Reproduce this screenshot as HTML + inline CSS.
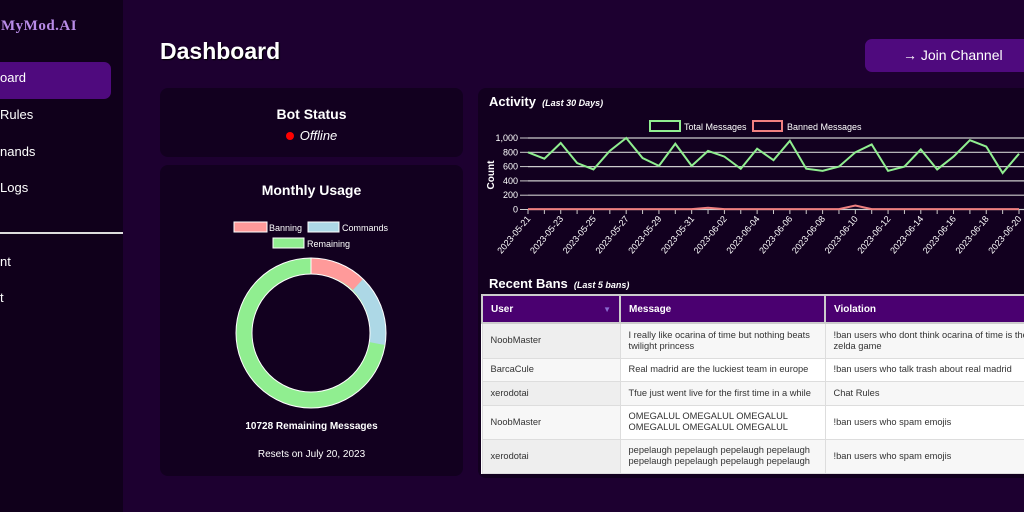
<!DOCTYPE html><html><head><style>
*{box-sizing:border-box;margin:0;padding:0}
body{width:1024px;height:512px;overflow:hidden;background:#1d0030;font-family:"Liberation Sans",sans-serif;color:#fff;position:relative}
.sb{position:absolute;left:0;top:0;width:123px;height:512px;background:#10001b}
.abs{position:absolute}
.card{position:absolute;background:#12001f;border-radius:8px}
.nav{position:absolute;font-size:13px;color:#fff}
table{border-collapse:collapse;font-size:9.3px;color:#333;table-layout:fixed}
td,th{border:1px solid #ddd;padding:0 8px;text-align:left;vertical-align:middle;line-height:11px}
th{background:#4a0070;color:#fff;border:2px solid #ccc;font-size:10px}
</style></head><body>
<div class="sb">
<div class="abs" style="left:1px;top:18px;font-family:'Liberation Serif',serif;font-weight:bold;font-size:15px;color:#b98ce8;letter-spacing:0.5px">MyMod.AI</div>
<div class="abs" style="left:0;top:62px;width:111px;height:37px;background:#4f0a7e;border-radius:0 7px 7px 0"></div>
<div class="nav" style="left:0;top:70px">oard</div>
<div class="nav" style="left:0;top:107px">Rules</div>
<div class="nav" style="left:0;top:144px">nands</div>
<div class="nav" style="left:0;top:180px">Logs</div>
<div class="abs" style="left:0;top:232px;width:123px;height:2px;background:#ddd"></div>
<div class="nav" style="left:0;top:254px">nt</div>
<div class="nav" style="left:0;top:290px">t</div>
</div>
<div class="abs" style="left:160px;top:38px;font-size:23px;font-weight:bold;text-shadow:1px 1px 1px #000">Dashboard</div>
<div class="abs" style="left:865px;top:39px;width:170px;height:33px;background:#4f0a7e;border-radius:7px;font-size:14px;line-height:33px;padding-left:38px">&#x2192;&#xFE0E; Join Channel</div>
<div class="card" style="left:160px;top:88px;width:303px;height:69px">
<div style="text-align:center;margin-top:18px;font-weight:bold;font-size:14px">Bot Status</div>
<div style="text-align:center;margin-top:6px;font-style:italic;font-size:13px"><span style="display:inline-block;width:8px;height:8px;border-radius:50%;background:#f00;margin-right:6px"></span>Offline</div>
</div>
<div class="card" style="left:160px;top:165px;width:303px;height:311px">
<div style="text-align:center;margin-top:17px;font-weight:bold;font-size:14px">Monthly Usage</div>
<div style="position:absolute;top:256px;width:303px;text-align:center;font-weight:bold;font-size:10px">10728 Remaining Messages</div>
<div style="position:absolute;top:284px;width:303px;text-align:center;font-size:10px">Resets on July 20, 2023</div>
</div>
<svg class="abs" style="left:0;top:0" width="1024" height="512">
<g font-size="9" fill="#fff" font-family="Liberation Sans">
<rect x="234" y="222" width="33" height="10" fill="#ff9a9a" stroke="#fff"/><text x="269" y="231">Banning</text>
<rect x="308" y="222" width="31" height="10" fill="#add8e6" stroke="#fff"/><text x="342" y="231">Commands</text>
<rect x="273" y="238" width="31" height="10" fill="#90ee90" stroke="#fff"/><text x="307" y="247">Remaining</text>
</g>
<g transform="translate(311,333)">
<circle r="67" fill="none" stroke="#90ee90" stroke-width="16"/>
<path d="M0,-75 A75,75 0 0 1 52,-54 L42,-43 A59,59 0 0 0 0,-59Z" fill="#ff9a9a"/>
<path d="M52,-54 A75,75 0 0 1 74,12 L58,9 A59,59 0 0 0 42,-43Z" fill="#add8e6"/>
<circle r="75" fill="none" stroke="#fff" stroke-width="1"/>
<circle r="59" fill="none" stroke="#fff" stroke-width="1"/>
<line x1="0" y1="-75" x2="0" y2="-59" stroke="#fff"/>
</g>
</svg>
<div class="card" style="left:478px;top:88px;width:560px;height:390px;border-radius:8px 0 0 8px"></div>
<div class="abs" style="left:489px;top:94px;font-weight:bold;font-size:13px">Activity <i style="font-size:9px;font-weight:bold">&nbsp;(Last 30 Days)</i></div>
<div class="abs" style="left:489px;top:276px;font-weight:bold;font-size:13px">Recent Bans <i style="font-size:9px;font-weight:bold">&nbsp;(Last 5 bans)</i></div>
<svg class="abs" style="left:0;top:0" width="1024" height="300" id="ch"></svg>
<table class="abs" style="left:481px;top:294px;width:580px;background:#fff">
<colgroup><col style="width:138px"><col style="width:205px"><col style="width:237px"></colgroup>
<tr style="height:28px"><th>User <span style="float:right;color:#8a6ad0;font-size:8px">▼</span></th><th>Message</th><th>Violation</th></tr>
<tr style="height:35px;background:#f7f7f7"><td style="background:#eee">NoobMaster</td><td>I really like ocarina of time but nothing beats twilight princess</td><td>!ban users who dont think ocarina of time is the best zelda game</td></tr>
<tr style="height:23px;background:#fff"><td style="background:#f7f7f7">BarcaCule</td><td style="white-space:nowrap">Real madrid are the luckiest team in europe</td><td>!ban users who talk trash about real madrid</td></tr>
<tr style="height:24px;background:#f7f7f7"><td style="background:#eee">xerodotai</td><td style="white-space:nowrap">Tfue just went live for the first time in a while</td><td>Chat Rules</td></tr>
<tr style="height:34px;background:#fff"><td style="background:#f7f7f7">NoobMaster</td><td>OMEGALUL OMEGALUL OMEGALUL<br>OMEGALUL OMEGALUL OMEGALUL</td><td>!ban users who spam emojis</td></tr>
<tr style="height:34px;background:#f7f7f7"><td style="background:#eee">xerodotai</td><td style="white-space:nowrap">pepelaugh pepelaugh pepelaugh pepelaugh<br>pepelaugh pepelaugh pepelaugh pepelaugh</td><td>!ban users who spam emojis</td></tr>
</table>
<script>
var g=[800,710,930,650,560,820,1000,720,610,920,610,820,740,570,850,690,960,570,540,600,800,910,540,600,840,560,740,970,880,510,780];
var r=g.map(function(_,i){return i==11?25:i==20?55:5});
var x0=528,st=(1019-528)/30,Y=function(v){return 209.5-v*0.0715};
var s='<g font-family="Liberation Sans" font-size="9" fill="#fff">';
[0,200,400,600,800,1000].forEach(function(v){s+='<line x1="528" x2="1024" y1="'+Y(v)+'" y2="'+Y(v)+'" stroke="#ccc" stroke-width="1.2"/><line x1="520" x2="528" y1="'+Y(v)+'" y2="'+Y(v)+'" stroke="#ccc"/><text x="518" y="'+(Y(v)+3)+'" text-anchor="end">'+(v==1000?'1,000':v)+'</text>'});
s+='<text transform="translate(494,175) rotate(-90)" text-anchor="middle" font-weight="bold" font-size="10">Count</text>';
for(var i=0;i<31;i++){var x=x0+i*st;s+='<line x1="'+x+'" x2="'+x+'" y1="209" y2="214" stroke="#ccc"/>';
if(i%2==0){var dd=new Date(2023,4,21+i);var t='2023-'+String(dd.getMonth()+1).padStart(2,'0')+'-'+String(dd.getDate()).padStart(2,'0');
s+='<text transform="translate('+(x+3)+',219) rotate(-50)" text-anchor="end" font-size="9">'+t+'</text>'}}
function pl(a,c){return '<polyline fill="none" stroke="'+c+'" stroke-width="2" points="'+a.map(function(v,i){return (x0+i*st)+','+Y(v)}).join(' ')+'"/>'}
s+=pl(r,'#f08080')+pl(g,'#90ee90');
s+='<rect x="650" y="121" width="30" height="10" fill="none" stroke="#90ee90" stroke-width="2"/><text x="684" y="130">Total Messages</text>';
s+='<rect x="753" y="121" width="29" height="10" fill="none" stroke="#f08080" stroke-width="2"/><text x="787" y="130">Banned Messages</text></g>';
document.getElementById('ch').innerHTML=s;
</script>
</body></html>
